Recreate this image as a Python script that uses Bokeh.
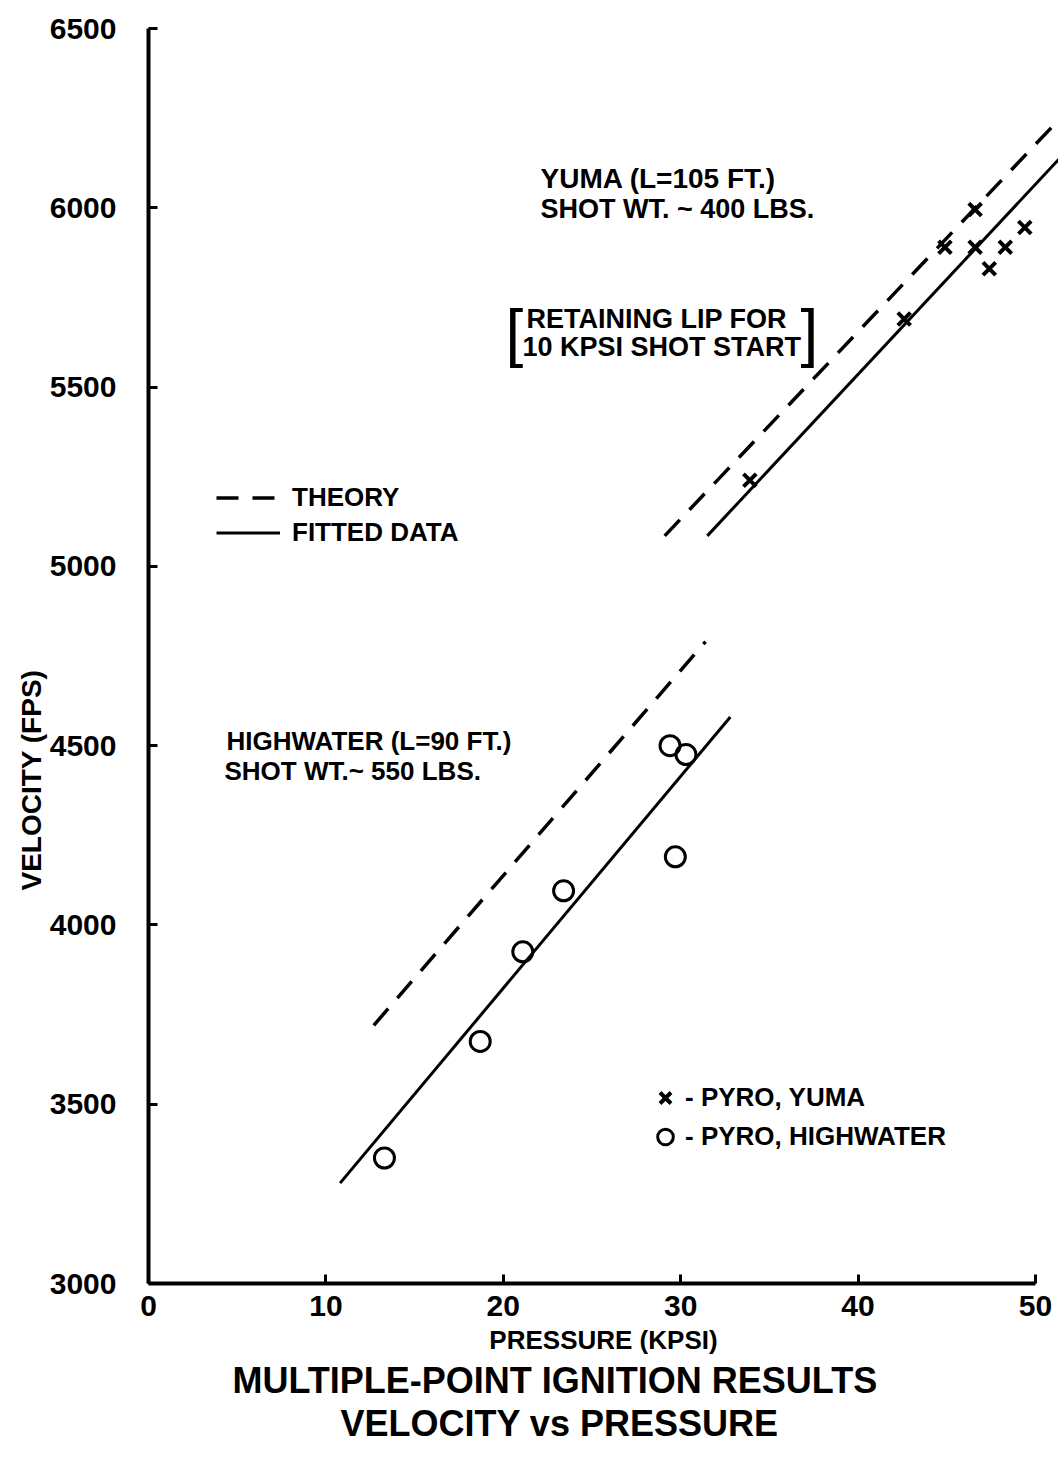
from bokeh.plotting import figure
from bokeh.models import Label, Legend, LegendItem, Range1d, FixedTicker, Title
from bokeh.embed import file_html
from bokeh.resources import INLINE

# ---- data ----
hw_pressure = [13.3, 18.7, 21.1, 23.4, 29.4, 30.3, 29.7]
hw_velocity = [3350, 3675, 3925, 4095, 4500, 4475, 4190]

yuma_pressure = [33.9, 42.6, 44.9, 46.6, 46.6, 47.4, 48.3, 49.4]
yuma_velocity = [5240, 5690, 5890, 5995, 5890, 5830, 5890, 5945]

hw_fit_p = [10.8, 32.8]
hw_fit_v = [3280, 4580]
hw_theory_p = [12.7, 31.4]
hw_theory_v = [3720, 4790]

yuma_fit_p = [31.5, 51.5]
yuma_fit_v = [5085, 6145]
yuma_theory_p = [29.1, 51.5]
yuma_theory_v = [5085, 6255]

x_ticks = [0, 10, 20, 30, 40, 50]
y_ticks = [3000, 3500, 4000, 4500, 5000, 5500, 6000, 6500]

FONT = "Liberation Sans"

p = figure(width=1058, height=1454, output_backend="svg", toolbar_location=None,
           x_range=Range1d(0, 51.3), y_range=Range1d(3000, 6500),
           min_border_left=148, min_border_right=0, min_border_top=28,
           min_border_bottom=171)
p.background_fill_color = "white"
p.border_fill_color = "white"
p.outline_line_color = None
p.grid.visible = False

for ax in (p.xaxis[0], p.yaxis[0]):
    ax.axis_line_width = 4
    ax.axis_line_color = "black"
    ax.major_tick_in = 9
    ax.major_tick_out = 0
    ax.major_tick_line_width = 3
    ax.minor_tick_line_color = None
    ax.major_label_text_font = FONT
    ax.major_label_text_font_style = "bold"
    ax.major_label_text_font_size = "30px"
    ax.major_label_text_color = "black"
    ax.axis_label_text_font = FONT
    ax.axis_label_text_font_style = "bold"
    ax.axis_label_text_color = "black"

p.xaxis.ticker = FixedTicker(ticks=x_ticks)
p.yaxis.ticker = FixedTicker(ticks=y_ticks)
p.xaxis.bounds = (0, 50)
p.yaxis.bounds = (3000, 6500)
p.xaxis.major_label_standoff = 12
p.yaxis.major_label_standoff = 32
p.xaxis.axis_label = "PRESSURE (KPSI)"
p.xaxis.axis_label_text_font_size = "26px"
p.xaxis.axis_label_standoff = 6

# y-axis label as a side title so it can sit below the frame centre
ytitle = Title(text="VELOCITY (FPS)", align="left", offset=393, standoff=0,
               text_font=FONT, text_font_style="bold", text_font_size="28px",
               text_color="black")
p.add_layout(ytitle, "left")

# lines
r_th1 = p.line(hw_theory_p, hw_theory_v, line_color="black", line_width=3.5, line_dash="22 14")
r_th2 = p.line(yuma_theory_p, yuma_theory_v, line_color="black", line_width=3.5, line_dash="22 14")
r_fit1 = p.line(hw_fit_p, hw_fit_v, line_color="black", line_width=3)
r_fit2 = p.line(yuma_fit_p, yuma_fit_v, line_color="black", line_width=3)

# points
r_yuma = p.scatter(yuma_pressure, yuma_velocity, marker="x", size=18,
                   line_color="black", line_width=4)
r_hw = p.scatter(hw_pressure, hw_velocity, marker="circle", size=20,
                 fill_color=None, line_color="black", line_width=3)

# legends
leg1 = Legend(items=[LegendItem(label="THEORY", renderers=[r_th1]),
                     LegendItem(label="FITTED DATA", renderers=[r_fit1])],
              location=(68, 733), orientation="vertical",
              padding=0, margin=0, spacing=0, glyph_width=64, glyph_height=35,
              label_height=35, label_standoff=12,
              label_text_font=FONT, label_text_font_style="bold",
              label_text_font_size="26px", label_text_color="black",
              border_line_color=None, background_fill_alpha=0)
leg2 = Legend(items=[LegendItem(label="- PYRO, YUMA", renderers=[r_yuma]),
                     LegendItem(label="- PYRO, HIGHWATER", renderers=[r_hw])],
              location=(497, 127), orientation="vertical",
              padding=0, margin=0, spacing=0, glyph_width=40, glyph_height=39,
              label_height=39, label_standoff=-4,
              label_text_font=FONT, label_text_font_style="bold",
              label_text_font_size="26px", label_text_color="black",
              border_line_color=None, background_fill_alpha=0)
p.add_layout(leg1)
p.add_layout(leg2)

def txt(x, y, s, size="26px", align="left", style="bold"):
    p.add_layout(Label(x=x, y=y, x_units="screen", y_units="screen", text=s,
                       text_font=FONT, text_font_style=style, text_font_size=size,
                       text_align=align, text_baseline="middle", text_color="black"))

txt(392, 1105, "YUMA (L=105 FT.)", size="28px")
txt(392, 1075, "SHOT WT. ~ 400 LBS.", size="27px")
txt(378, 965, "RETAINING LIP FOR", size="27px")
txt(374, 937, "10 KPSI SHOT START", size="27px")
txt(357, 951, "[", size="64px", style="normal")
txt(652, 951, "]", size="64px", style="normal")
txt(78, 543, "HIGHWATER (L=90 FT.)")
txt(76, 513, "SHOT WT.~ 550 LBS.")

# two-line caption below the axis
t1 = Title(text="MULTIPLE-POINT IGNITION RESULTS", align="left", offset=84, standoff=0,
           text_font=FONT, text_font_style="bold", text_font_size="36px",
           text_color="black")
t2 = Title(text="VELOCITY vs PRESSURE", align="left", offset=192, standoff=0,
           text_font=FONT, text_font_style="bold", text_font_size="36px",
           text_color="black")
p.add_layout(t1, "below")
p.add_layout(t2, "below")

open("out.html", "w").write(file_html(p, INLINE))
